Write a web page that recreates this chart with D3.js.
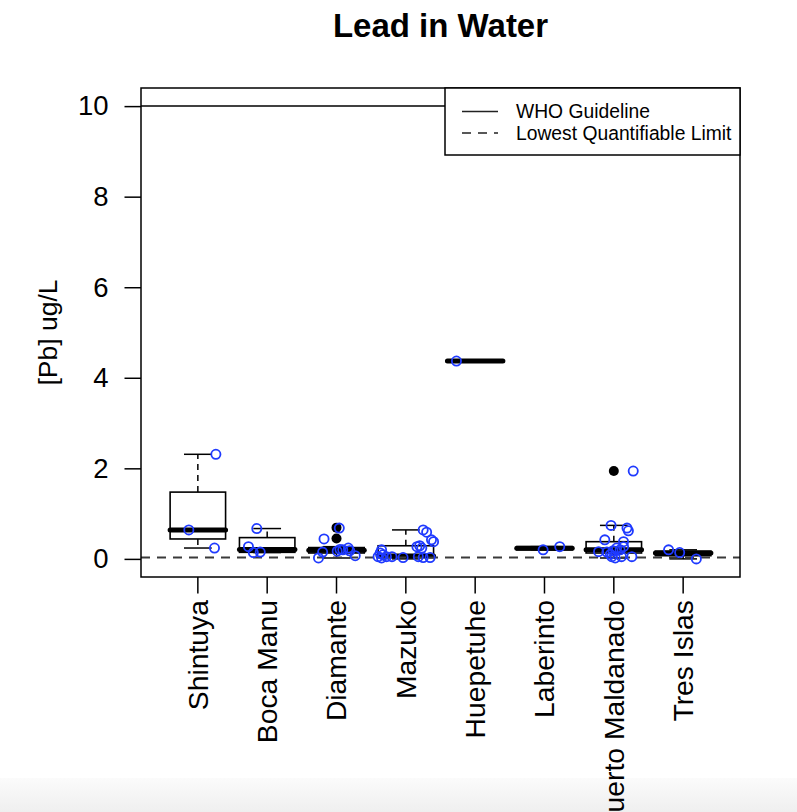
<!DOCTYPE html>
<html><head><meta charset="utf-8">
<script src="https://cdn.jsdelivr.net/npm/d3@7"></script>
<style>
body{margin:0;background:#fff}
svg{display:block}
text{font-family:"Liberation Sans",Arial,Helvetica,sans-serif;fill:#000}
</style>
</head><body>
<svg id="chart" width="797" height="812"></svg>
<script>
// ---------- data ----------
const categories = ["Shintuya","Boca Manu","Diamante","Mazuko","Huepetuhe","Laberinto","Puerto Maldanado","Tres Islas"];

// box statistics per site
const lowerWhisker = [0.24, 0.14, 0.02, 0.00, 4.37, 0.20, 0.02, 0.00];
const lowerHinge   = [0.44, 0.145, 0.13, 0.035, 4.37, 0.20, 0.13, 0.07];
const medians      = [0.64, 0.205, 0.19, 0.065, 4.37, 0.235, 0.20, 0.13];
const upperHinge   = [1.475, 0.47, 0.25, 0.29, 4.37, 0.27, 0.38, 0.17];
const upperWhisker = [2.31, 0.67, 0.27, 0.64, 4.37, 0.27, 0.74, 0.20];

// outliers (site index, value)
const outlierSite  = [2, 2, 6];
const outlierValue = [0.69, 0.45, 1.94];

// sample values (jittered points) per site, with their jitter offsets (category units)
const shintuyaPb  = [2.31, 0.64, 0.24];
const shintuyaJit = [0.26, -0.13, 0.24];
const bocaManuPb  = [0.67, 0.27, 0.14, 0.15];
const bocaManuJit = [-0.15, -0.27, -0.20, -0.10];
const diamantePb  = [0.68, 0.44, 0.15, 0.02, 0.21, 0.20, 0.24, 0.18, 0.07, 0.17];
const diamanteJit = [0.04, -0.18, -0.20, -0.26, 0.05, 0.09, 0.17, 0.19, 0.27, 0.01];
const mazukoPb    = [0.64, 0.59, 0.42, 0.38, 0.27, 0.29, 0.24, 0.20, 0.13, 0.09, 0.05, 0.02, 0.05, 0.05, 0.03, 0.05, 0.03, 0.03];
const mazukoJit   = [0.25, 0.30, 0.37, 0.40, 0.16, 0.20, 0.23, -0.35, -0.37, -0.33, -0.40, -0.35, -0.28, -0.20, -0.04, 0.18, 0.25, 0.35];
const huepetuhePb  = [4.37];
const huepetuheJit = [-0.27];
const laberintoPb  = [0.20, 0.27];
const laberintoJit = [-0.02, 0.22];
const puertoPb  = [1.94, 0.74, 0.68, 0.62, 0.42, 0.38, 0.27, 0.16, 0.24, 0.18, 0.20, 0.10, 0.05, 0.02, 0.05, 0.15, 0.05];
const puertoJit = [0.28, -0.04, 0.19, 0.21, -0.13, 0.14, 0.14, -0.22, 0.04, -0.01, 0.09, -0.05, -0.03, 0.02, 0.26, -0.10, 0.11];
const tresIslasPb  = [0.20, 0.14, 0.00];
const tresIslasJit = [-0.21, -0.05, 0.19];

const siteValues = [shintuyaPb, bocaManuPb, diamantePb, mazukoPb, huepetuhePb, laberintoPb, puertoPb, tresIslasPb];
const siteJitter = [shintuyaJit, bocaManuJit, diamanteJit, mazukoJit, huepetuheJit, laberintoJit, puertoJit, tresIslasJit];

const yTicks = [0, 2, 4, 6, 8, 10];
const whoGuideline = 10;
const lowestQuantifiable = 0.03;
const legendLabels = ["WHO Guideline", "Lowest Quantifiable Limit"];
const titleText = "Lead in Water";
const yTitle = "[Pb] ug/L";

// ---------- layout ----------
const svg = d3.select("#chart");
const plot = {left: 141, right: 740, top: 88, bottom: 577};
const x = d3.scaleLinear().domain([0.18, 8.82]).range([plot.left, plot.right]);
const y = d3.scaleLinear().domain([-0.4, 10.4]).range([plot.bottom, plot.top]);
const boxHalf = 0.4, stapleHalf = 0.2;
const baseFont = 27.5;

// bottom grey band (screenshot frame)
const defs = svg.append("defs");
const grad = defs.append("linearGradient").attr("id","band").attr("x1",0).attr("y1",0).attr("x2",0).attr("y2",1);
grad.append("stop").attr("offset","0%").attr("stop-color","#fbfbfb");
grad.append("stop").attr("offset","100%").attr("stop-color","#efefef");
svg.append("rect").attr("x",0).attr("y",778).attr("width",797).attr("height",34).attr("fill","url(#band)");

// title
svg.append("text").attr("x", (plot.left+plot.right)/2).attr("y", 37)
  .attr("text-anchor","middle").attr("font-size", 33).attr("font-weight","bold").text(titleText);

// y axis title
svg.append("text").attr("transform", `translate(48,${(plot.top+plot.bottom)/2}) rotate(-90)`)
  .attr("text-anchor","middle").attr("dy","0.35em").attr("font-size", 26.5).text(yTitle);

// y axis
const yAxis = d3.axisLeft(y).tickValues(yTicks).tickSize(16.5).tickPadding(16).tickFormat(d3.format("d"));
const gy = svg.append("g").attr("transform", `translate(${plot.left},0)`).call(yAxis);
gy.select(".domain").remove();
gy.selectAll(".tick line").attr("stroke","#000").attr("stroke-width",1.5);
gy.selectAll(".tick text").attr("font-size", baseFont).attr("font-family",'"Liberation Sans",Arial,Helvetica,sans-serif').attr("fill","#000");

// x axis ticks and rotated labels
const idx = d3.range(1, categories.length + 1);
const gx = svg.append("g");
gx.selectAll("line.xt").data(idx).join("line").attr("class","xt")
  .attr("x1", d => x(d)).attr("x2", d => x(d))
  .attr("y1", plot.bottom).attr("y2", plot.bottom + 16.5)
  .attr("stroke","#000").attr("stroke-width",1.5);
gx.selectAll("text.xl").data(idx).join("text").attr("class","xl")
  .attr("transform", d => `translate(${x(d)},${plot.bottom + 23}) rotate(-90)`)
  .attr("text-anchor","end").attr("dy","0.35em").attr("font-size", 28.3)
  .text(d => categories[d-1]);

// boxes
const boxes = svg.append("g");
categories.forEach((c, i) => {
  const cx = i + 1;
  const g = boxes.append("g");
  g.append("line").attr("x1", x(cx)).attr("x2", x(cx)).attr("y1", y(upperHinge[i])).attr("y2", y(upperWhisker[i]))
    .attr("stroke","#000").attr("stroke-width",1.5).attr("stroke-dasharray","6,5");
  g.append("line").attr("x1", x(cx)).attr("x2", x(cx)).attr("y1", y(lowerHinge[i])).attr("y2", y(lowerWhisker[i]))
    .attr("stroke","#000").attr("stroke-width",1.5).attr("stroke-dasharray","6,5");
  [upperWhisker[i], lowerWhisker[i]].forEach(v => {
    g.append("line").attr("x1", x(cx - stapleHalf)).attr("x2", x(cx + stapleHalf)).attr("y1", y(v)).attr("y2", y(v))
      .attr("stroke","#000").attr("stroke-width",1.5);
  });
  g.append("rect").attr("x", x(cx - boxHalf)).attr("width", x(cx + boxHalf) - x(cx - boxHalf))
    .attr("y", y(upperHinge[i])).attr("height", y(lowerHinge[i]) - y(upperHinge[i]))
    .attr("fill","none").attr("stroke","#000").attr("stroke-width",1.6);
  g.append("line").attr("x1", x(cx - boxHalf)).attr("x2", x(cx + boxHalf)).attr("y1", y(medians[i])).attr("y2", y(medians[i]))
    .attr("stroke","#000").attr("stroke-width",5).attr("stroke-linecap","round");
});

// outliers
svg.append("g").selectAll("circle").data(outlierValue).join("circle")
  .attr("cx", (d, k) => x(outlierSite[k] + 1)).attr("cy", d => y(d)).attr("r", 5).attr("fill","#000");

// reference lines
svg.append("line").attr("x1", plot.left).attr("x2", plot.right).attr("y1", y(whoGuideline)).attr("y2", y(whoGuideline))
  .attr("stroke","#000").attr("stroke-width",1.5);
svg.append("line").attr("x1", plot.left).attr("x2", plot.right).attr("y1", y(lowestQuantifiable)).attr("y2", y(lowestQuantifiable))
  .attr("stroke","#3a3a3a").attr("stroke-width",2).attr("stroke-dasharray","9,7");

// jittered sample points
const pts = [];
siteValues.forEach((vals, i) => vals.forEach((v, k) => pts.push({site: i + 1, v, j: siteJitter[i][k]})));
svg.append("g").selectAll("circle").data(pts).join("circle")
  .attr("cx", d => x(d.site + d.j)).attr("cy", d => y(d.v)).attr("r", 4.6)
  .attr("fill","none").attr("stroke","#1f3aff").attr("stroke-width",1.8);

// plot frame
svg.append("rect").attr("x", plot.left).attr("y", plot.top).attr("width", plot.right - plot.left).attr("height", plot.bottom - plot.top)
  .attr("fill","none").attr("stroke","#000").attr("stroke-width",1.5);

// legend
const lg = svg.append("g");
lg.append("rect").attr("x", 445).attr("y", plot.top).attr("width", plot.right - 445).attr("height", 67)
  .attr("fill","#fff").attr("stroke","#000").attr("stroke-width",1.5);
legendLabels.forEach((lab, k) => {
  const yy = 111.5 + k * 21.5;
  lg.append("line").attr("x1", 462).attr("x2", 498).attr("y1", yy).attr("y2", yy)
    .attr("stroke", "#222").attr("stroke-width", 1.5).attr("stroke-dasharray", k === 0 ? null : "9,7");
  lg.append("text").attr("x", 516).attr("y", yy).attr("dy","0.35em").attr("font-size", 19.3).text(lab);
});
</script>
</body></html>
